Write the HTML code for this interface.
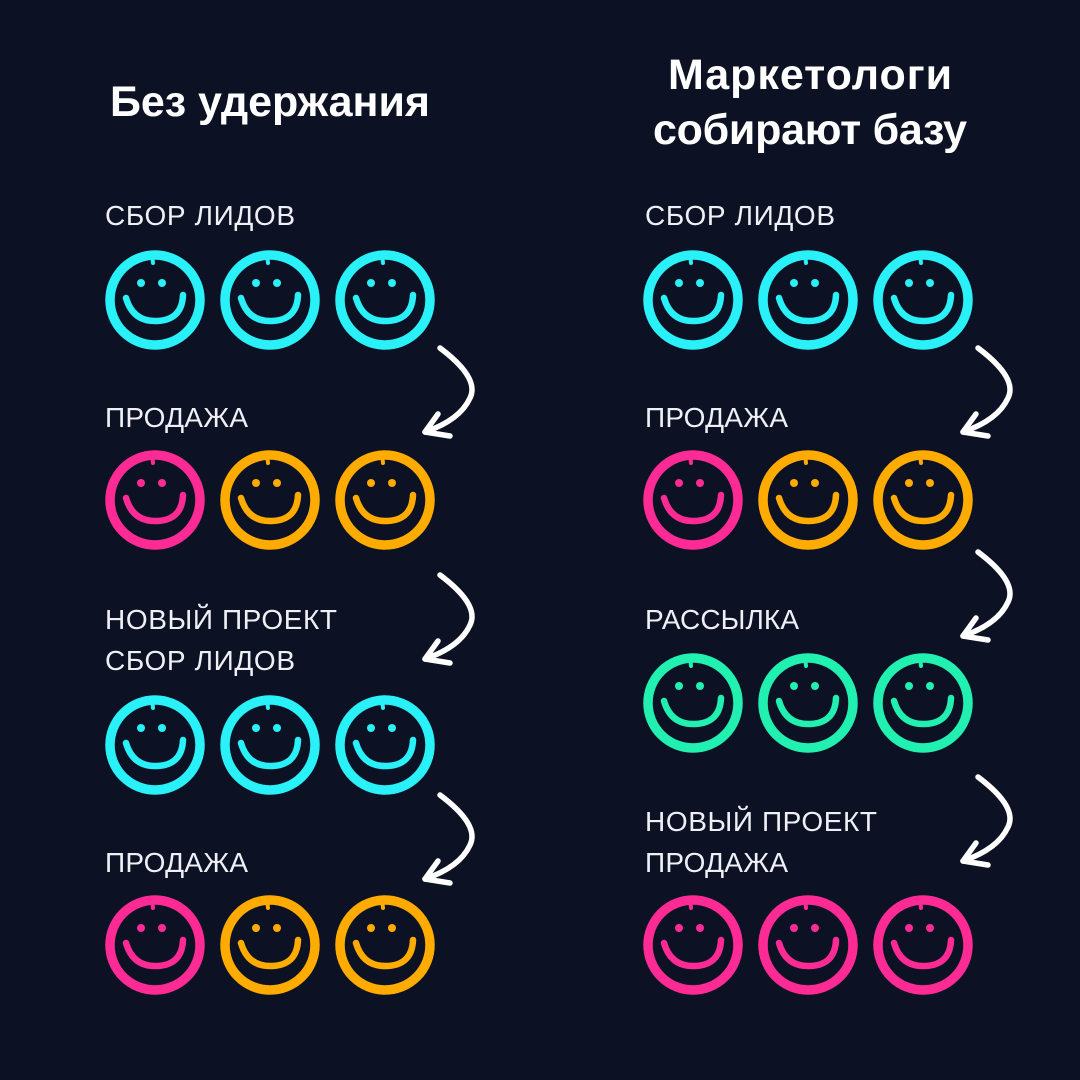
<!DOCTYPE html>
<html><head><meta charset="utf-8"><style>
html,body{margin:0;padding:0;background:#0c1124;}
svg{display:block}
.l{font-family:"Liberation Sans",sans-serif;font-size:28px;fill:#eef0f5;}
.t{font-family:"Liberation Sans",sans-serif;font-size:43px;font-weight:bold;fill:#fff;}
</style></head><body>
<svg width="1080" height="1080" viewBox="0 0 1080 1080" xmlns="http://www.w3.org/2000/svg">
<defs>
<g id="f">
<g fill="none" stroke="currentColor" stroke-linecap="round">
<circle cx="0" cy="0" r="45" stroke-width="9.5"/>
<path d="M-3,-46 L-2,-37" stroke-width="4"/>
<path d="M-29,-2 Q-22,22 2,21 Q27,20 28,-5" stroke-width="6.5"/>
</g>
<circle cx="-14" cy="-17" r="4" fill="currentColor"/>
<circle cx="7" cy="-17" r="4" fill="currentColor"/>
</g>
<g id="a" fill="none" stroke="#fff" stroke-width="5.5" stroke-linecap="round" stroke-linejoin="round">
<path d="M0,0 Q40,30 30,50 Q20,72 -15,84"/>
<path d="M-2,66 L-15,84 L10,88"/>
</g>
</defs>
<rect width="1080" height="1080" fill="#0c1124"/>
<text class="t" x="270" y="116" text-anchor="middle" textLength="320">Без удержания</text>
<text class="t" x="810" y="89" text-anchor="middle" textLength="284">Маркетологи</text>
<text class="t" x="810" y="144" text-anchor="middle" textLength="314">собирают базу</text>

<g class="l">
<text x="105" y="225" textLength="190">СБОР ЛИДОВ</text>
<text x="105" y="427" textLength="143">ПРОДАЖА</text>
<text x="105" y="629" textLength="232">НОВЫЙ ПРОЕКТ</text>
<text x="105" y="670" textLength="190">СБОР ЛИДОВ</text>
<text x="105" y="872" textLength="143">ПРОДАЖА</text>
<text x="645" y="225" textLength="190">СБОР ЛИДОВ</text>
<text x="645" y="427" textLength="143">ПРОДАЖА</text>
<text x="645" y="629" textLength="154">РАССЫЛКА</text>
<text x="645" y="831" textLength="232">НОВЫЙ ПРОЕКТ</text>
<text x="645" y="872" textLength="143">ПРОДАЖА</text>
</g>

<g style="color:#2af0f8">
<use href="#f" x="155" y="300"/><use href="#f" x="270" y="300"/><use href="#f" x="385" y="300"/>
<use href="#f" x="155" y="745"/><use href="#f" x="270" y="745"/><use href="#f" x="385" y="745"/>
<use href="#f" x="693" y="300"/><use href="#f" x="808" y="300"/><use href="#f" x="923" y="300"/>
</g>
<g style="color:#ff2b94">
<use href="#f" x="155" y="500"/><use href="#f" x="155" y="945"/><use href="#f" x="693" y="500"/>
<use href="#f" x="693" y="945"/><use href="#f" x="808" y="945"/><use href="#f" x="923" y="945"/>
</g>
<g style="color:#ffab00">
<use href="#f" x="270" y="500"/><use href="#f" x="385" y="500"/>
<use href="#f" x="270" y="945"/><use href="#f" x="385" y="945"/>
<use href="#f" x="808" y="500"/><use href="#f" x="923" y="500"/>
</g>
<g style="color:#22f0b0">
<use href="#f" x="693" y="703"/><use href="#f" x="808" y="703"/><use href="#f" x="923" y="703"/>
</g>

<use href="#a" x="440" y="348"/><use href="#a" x="440" y="575"/><use href="#a" x="440" y="795"/>
<use href="#a" x="978" y="348"/><use href="#a" x="978" y="552"/><use href="#a" x="978" y="777"/>
</svg>
</body></html>
